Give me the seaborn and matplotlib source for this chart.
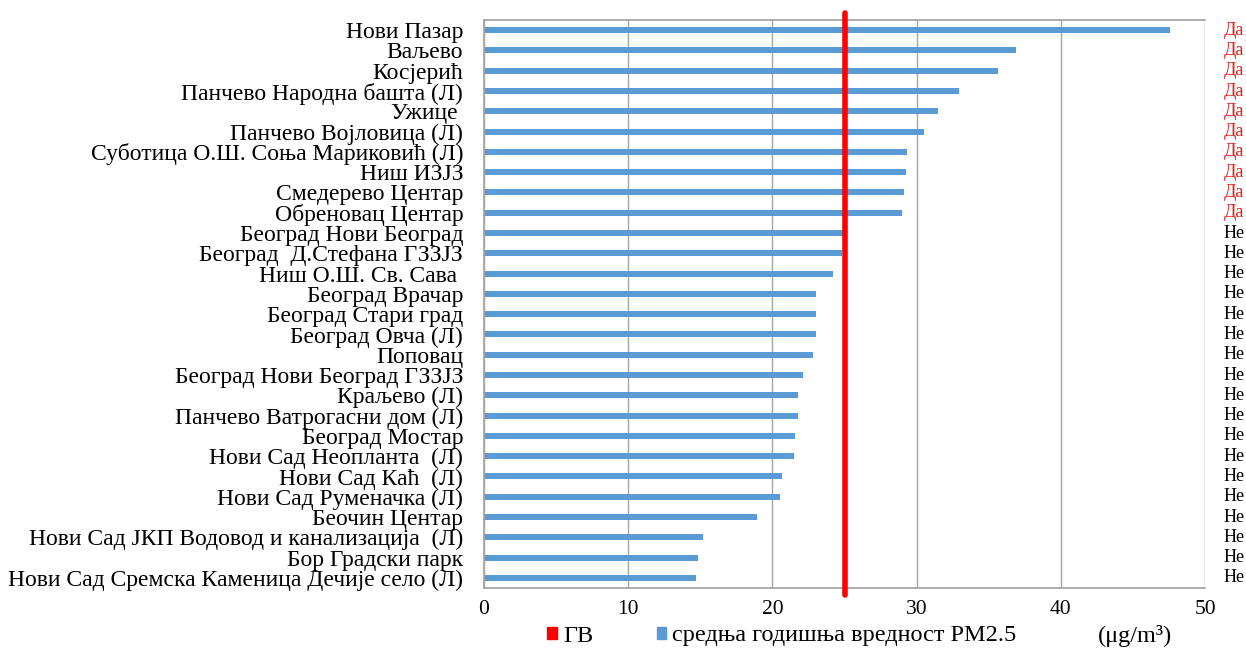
import matplotlib
matplotlib.use("Agg")
import matplotlib.pyplot as plt
import matplotlib.transforms as mtransforms
from matplotlib.patches import Patch
import seaborn as sns
import pandas as pd

# Stations and mean annual PM2.5 (µg/m3)
stations = [
    "Нови Пазар", "Ваљево", "Косјерић", "Панчево Народна башта (Л)", "Ужице ",
    "Панчево Војловица (Л)", "Суботица О.Ш. Соња Мариковић (Л)", "Ниш ИЗЈЗ",
    "Смедерево Центар", "Обреновац Центар", "Београд Нови Београд",
    "Београд  Д.Стефана ГЗЗЈЗ", "Ниш О.Ш. Св. Сава ", "Београд Врачар",
    "Београд Стари град", "Београд Овча (Л)", "Поповац",
    "Београд Нови Београд ГЗЗЈЗ", "Краљево (Л)", "Панчево Ватрогасни дом (Л)",
    "Београд Мостар", "Нови Сад Неопланта  (Л)", "Нови Сад Каћ  (Л)",
    "Нови Сад Руменачка (Л)", "Беочин Центар",
    "Нови Сад ЈКП Водовод и канализација  (Л)", "Бор Градски парк",
    "Нови Сад Сремска Каменица Дечије село (Л)",
]
pm25 = [47.6, 36.9, 35.65, 32.95, 31.5, 30.5, 29.3, 29.25, 29.1, 28.98, 24.9,
        24.85, 24.2, 23.05, 23.0, 23.0, 22.8, 22.15, 21.8, 21.8, 21.55, 21.5,
        20.65, 20.5, 18.9, 15.2, 14.85, 14.7]
exceeds = ["Да", "Да", "Да", "Да", "Да", "Да", "Да", "Да", "Да", "Да",
           "Не", "Не", "Не", "Не", "Не", "Не", "Не", "Не", "Не", "Не",
           "Не", "Не", "Не", "Не", "Не", "Не", "Не", "Не"]
limit_value = 25
x_ticks = [0, 10, 20, 30, 40, 50]

df = pd.DataFrame({"station": stations, "pm25": pm25})

sns.set_style("white")
plt.rcParams["font.family"] = ["Liberation Serif", "DejaVu Serif"]
plt.rcParams["text.color"] = "black"
plt.rcParams["xtick.labelcolor"] = "black"
plt.rcParams["ytick.labelcolor"] = "black"

fig = plt.figure(figsize=(12.46, 6.5), dpi=100)
ax = fig.add_axes([484 / 1246, 1 - 588 / 650, (1205 - 484) / 1246, (588 - 20) / 650])

sns.barplot(data=df, x="pm25", y="station", orient="h", color="#5B9BD5",
            width=0.3, saturation=1, linewidth=0, edgecolor="none", ax=ax, zorder=2)

ax.axvline(limit_value, ymin=-0.012, ymax=1.012, color="#FF0000", lw=4,
           clip_on=False, zorder=4)

ax.set_xlim(0, 50)
ax.set_xticks(x_ticks)
ax.set_xlabel("")
ax.set_ylabel("")
ax.xaxis.grid(True, color="#A6A6A6", lw=1)
ax.set_axisbelow(True)
for side in ["top", "left", "bottom"]:
    ax.spines[side].set_color("#A6A6A6")
    ax.spines[side].set_linewidth(1.3)
ax.spines["right"].set_visible(False)
ax.tick_params(axis="x", length=4, color="#A6A6A6", labelcolor="black",
               labelsize=15.5, pad=5)
ax.tick_params(axis="y", length=0, labelcolor="black", labelsize=17, pad=15)

# Да / Не column on the right
trans = mtransforms.blended_transform_factory(fig.transFigure, ax.transData)
for i, lab in enumerate(exceeds):
    ax.text(1224 / 1246, i, lab, transform=trans, va="center", ha="left",
            fontsize=13, color="#E0201B" if lab == "Да" else "#000000")

handles = [Patch(color="#FF0000", label="ГВ"),
           Patch(color="#5B9BD5", label="средња годишња вредност PM2.5")]
fig.legend(handles=handles, loc="center", bbox_to_anchor=(782 / 1246, 1 - 636 / 650),
           ncol=2, frameon=False, fontsize=17.5, handlelength=0.4, handleheight=0.4,
           handletextpad=0.25, columnspacing=2.6, labelcolor="black")
fig.text(1135 / 1246, 1 - 636 / 650, "(μg/m³)", ha="center", va="center",
         fontsize=17.5, color="black")

plt.savefig("out.png", dpi=100)
